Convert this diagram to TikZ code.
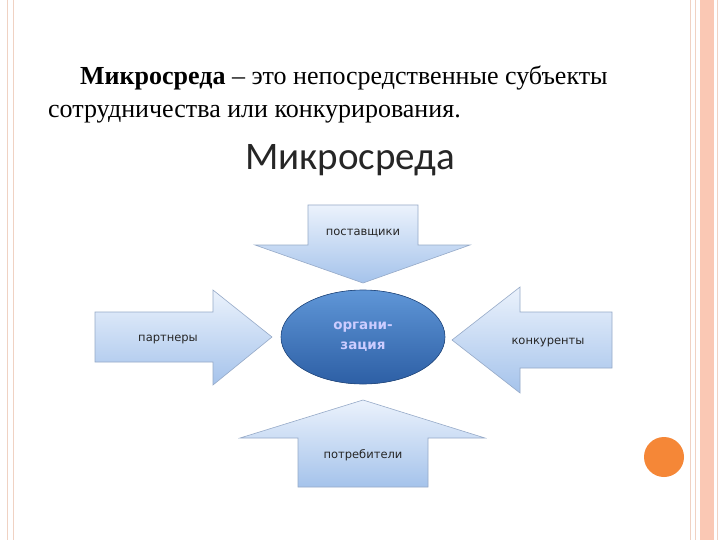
\documentclass[tikz,border=0pt]{standalone}
\usepackage{fontspec}
\setmainfont{Liberation Serif}
\newfontfamily\carlitofont{Carlito}
\newfontfamily\dvfont{DejaVu Sans}
\definecolor{peach}{RGB}{250,200,180}
\definecolor{peachl}{RGB}{240,210,195}
\definecolor{arrtop}{RGB}{235,242,252}
\definecolor{arrbot}{RGB}{165,195,235}
\definecolor{arredge}{RGB}{150,170,200}
\definecolor{orgdark}{RGB}{45,95,165}
\definecolor{orglight}{RGB}{95,150,215}
\definecolor{orng}{RGB}{245,135,55}
\tikzset{
  arr/.style={draw=arredge,line width=0.6pt,top color=arrtop,bottom color=arrbot},
  lab/.style={font=\dvfont\fontsize{11.5}{13}\selectfont,text=black!85},
}
\begin{document}
\begin{tikzpicture}[x=1pt,y=-1pt]
\useasboundingbox (0,0) rectangle (720,540);
\fill[white] (0,0) rectangle (720,540);
% borders
\draw[peachl,line width=0.8pt] (7,0)--(7,540);
\draw[peachl,line width=0.8pt] (13,0)--(13,540);
\draw[peachl,line width=1pt] (690,0)--(690,540);
\draw[peachl,line width=0.8pt] (695,0)--(695,540);
\fill[peach] (700,0) rectangle (714,540);
\draw[peachl,line width=0.8pt] (717,0)--(717,540);
% header text
\node[anchor=base west,inner sep=0,font=\fontsize{26}{30}\selectfont] (h1) at (80,85) {\textbf{Микросреда} – это непосредственные субъекты};
\node[anchor=base west,inner sep=0,font=\fontsize{26}{30}\selectfont] (h2) at (48,118) {сотрудничества или конкурирования.};
\node[font=\carlitofont\fontsize{39}{42}\selectfont,text=black!85] (title) at (350,160) {Микросреда};
% arrows
\path[arr] (308,205)--(418,205)--(418,245)--(470,245)--(363,283)--(255,245)--(308,245)--cycle;
\path[arr] (95,312)--(213,312)--(213,290)--(272,337)--(213,385)--(213,362)--(95,362)--cycle;
\path[arr] (612,312)--(520,312)--(520,287)--(452,340)--(520,393)--(520,368)--(612,368)--cycle;
\path[arr] (298,487)--(428,487)--(428,438)--(485,438)--(363,400)--(240,438)--(298,438)--cycle;
\node[lab] (sup) at (363,233) {поставщики};
\node[lab] (par) at (168,339) {партнеры};
\node[lab] (kon) at (548,342) {конкуренты};
\node[lab] (pot) at (363,455) {потребители};
% ellipse
\fill[draw=orgdark!80!black,line width=0.6pt,top color=orglight,bottom color=orgdark] (363,337) ellipse [x radius=82,y radius=47];
\node[font=\dvfont\bfseries\fontsize{13.5}{20}\selectfont,text=white!80!blue,align=center] (org) at (363,337) {органи-\\зация};
% orange circle
\fill[orng] (664,457) circle (20);
\end{tikzpicture}
\end{document}
